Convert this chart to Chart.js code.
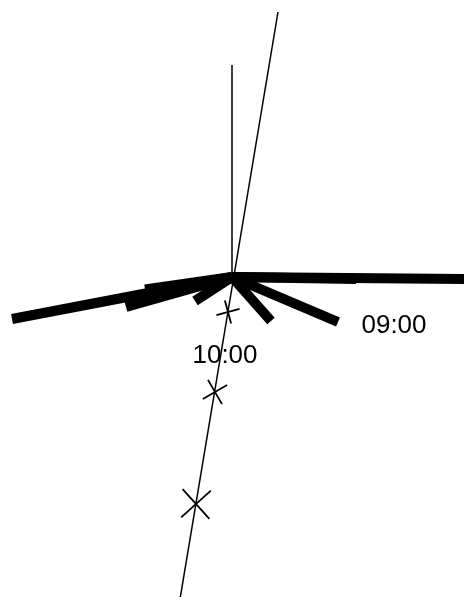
<!DOCTYPE html>
<html>
<head>
<meta charset="utf-8">
<script src="https://cdn.jsdelivr.net/npm/chart.js@4/dist/chart.umd.min.js"></script>
<style>
  html, body { margin: 0; padding: 0; background: #fff; }
  #wrap { width: 464px; height: 597px; }
</style>
</head>
<body>
<div id="wrap"><canvas id="chart"></canvas></div>
<script>
// stick vectors from the common origin (u east, v north)
const stickU = [238, 124, 106, 39, -37, -106, -87, -220];
const stickV = [-2, -2, -45, -44, -24, -30, -12.5, -42];

// vertical reference line and slanted track line
const refLineX = [0, 0];
const refLineY = [212, 0];
const trackX = [46, -55];
const trackY = [265, -340];

// cross markers on the track
const markX = [-4, -17, -36];
const markY = [-35, -115, -227];
const markSize = [12, 14, 20];
const markTurn = [30, 15, 3];

// time labels
const timeLabels = ['09:00', '10:00'];
const timeLabelX = [162, -7];
const timeLabelY = [-49, -79];

const datasets = [];

stickU.forEach((u, i) => {
    datasets.push({
        data: [{x: 0, y: 0}, {x: u, y: stickV[i]}],
        showLine: true,
        borderColor: '#000',
        borderWidth: 10,
        borderCapStyle: 'butt',
        pointRadius: 0
    });
});

datasets.push({
    data: refLineX.map((x, i) => ({x: x, y: refLineY[i]})),
    showLine: true,
    borderColor: '#000',
    borderWidth: 1.5,
    pointRadius: 0
});

datasets.push({
    data: trackX.map((x, i) => ({x: x, y: trackY[i]})),
    showLine: true,
    borderColor: '#000',
    borderWidth: 1.5,
    pointRadius: 0
});

datasets.push({
    data: markX.map((x, i) => ({x: x, y: markY[i]})),
    showLine: false,
    pointStyle: 'crossRot',
    pointRadius: markSize,
    pointRotation: markTurn,
    pointBorderColor: '#000',
    pointBorderWidth: 1.8,
    borderColor: '#000'
});

const timeLabelPlugin = {
    id: 'timeLabels',
    afterDatasetsDraw(chart) {
        const ctx = chart.ctx;
        const xs = chart.scales.x;
        const ys = chart.scales.y;
        ctx.save();
        ctx.fillStyle = '#000';
        ctx.font = '26px "Liberation Sans", Arial, sans-serif';
        ctx.textAlign = 'center';
        ctx.textBaseline = 'middle';
        timeLabels.forEach((t, i) => {
            ctx.fillText(t, xs.getPixelForValue(timeLabelX[i]), ys.getPixelForValue(timeLabelY[i]));
        });
        ctx.restore();
    }
};

new Chart(document.getElementById('chart'), {
    type: 'scatter',
    data: { datasets: datasets },
    options: {
        responsive: true,
        maintainAspectRatio: false,
        animation: false,
        devicePixelRatio: 1,
        layout: { padding: 0, autoPadding: false },
        plugins: {
            legend: { display: false },
            tooltip: { enabled: false }
        },
        scales: {
            x: { type: 'linear', min: -232, max: 232, display: false },
            y: { type: 'linear', min: -320, max: 277, display: false }
        }
    },
    plugins: [timeLabelPlugin]
});
</script>
</body>
</html>
